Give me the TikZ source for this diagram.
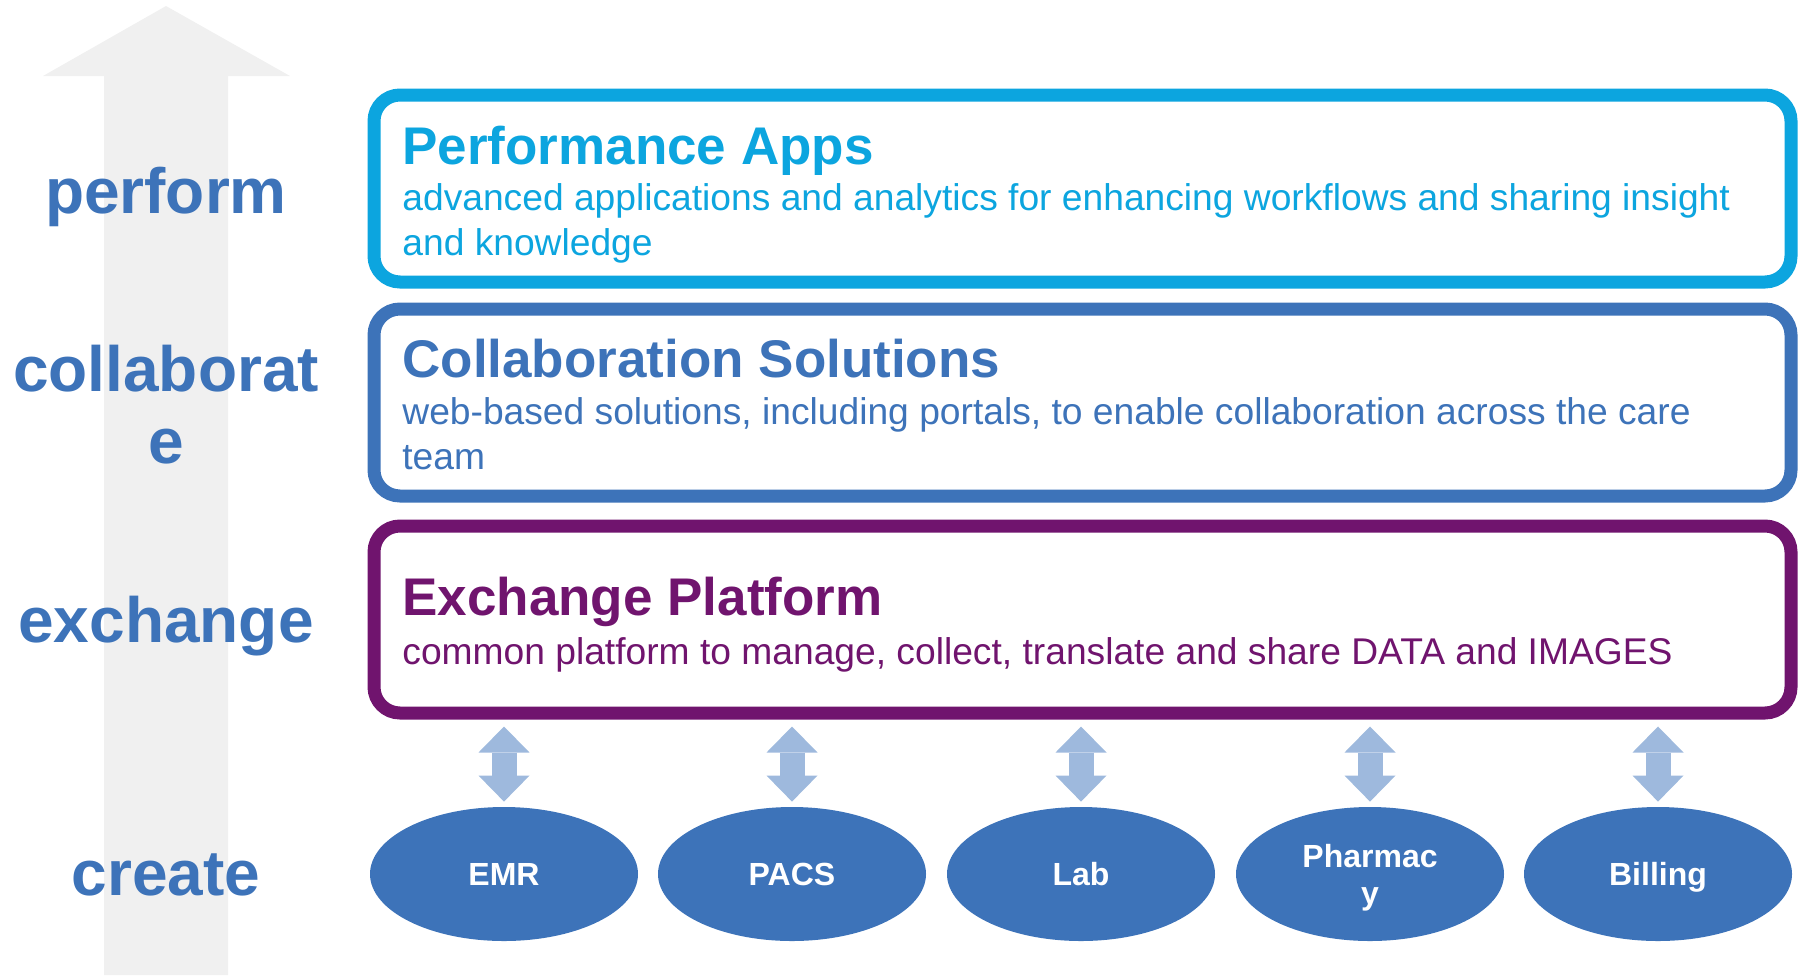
\documentclass[tikz,border=0pt]{standalone}
\usepackage{fontspec}
\setmainfont{Liberation Sans}
\usepackage{tikz}
\usetikzlibrary{arrows.meta}
\usetikzlibrary{shapes.geometric,positioning}
\definecolor{appcyan}{RGB}{12,165,223}
\definecolor{lvlblue}{RGB}{61,115,185}
\definecolor{exchpurple}{RGB}{112,20,110}
\definecolor{arrblue}{RGB}{158,185,221}
\definecolor{bggray}{RGB}{240,240,240}

\begin{document}
\begin{tikzpicture}[x=0.5pt,y=-0.5pt]
  \tikzset{layer/.style = {shape=rectangle,draw,line width=6.5pt,rounded corners=13pt,minimum width=708.5pt,minimum height=93.5pt,fill=white}}
  \tikzset{source/.style = {shape=ellipse,fill=lvlblue,minimum width=134pt,minimum height=67pt,inner sep=0pt,text height=11.5pt,text depth=0pt,text=white,align=center,font=\fontsize{16}{18.5}\selectfont\bfseries}}
  \tikzset{level/.style = {text=lvlblue,align=center,anchor=base,inner sep=0pt,font=\fontsize{32}{36}\selectfont\bfseries}}
  \tikzset{boxtitle/.style = {anchor=base west,inner sep=0pt,font=\fontsize{26.5}{30}\selectfont\bfseries}}
  \tikzset{boxtext/.style = {anchor=base west,inner sep=0pt,align=left,font=\fontsize{18.6}{22.5}\selectfont}}
  \tikzset{%
  tipB/.tip={Triangle[width=25.5pt 0 0,length=13pt 0 0,line width=0pt 0 0]},
  }
  \tikzset{dblarrow/.style = {color=arrblue,line width=12.5pt,tipB-tipB,shorten <=3.5pt,shorten >=2.5pt}}

  \useasboundingbox (0,0) rectangle (1803,975);

  % big arrow behind the levels
  \fill[bggray] (104,975) -- (104,76) -- (43,76) -- (166,6) -- (290,76) -- (228,76) -- (228,975) -- cycle;

	\node[level] (perf) at (166,213) {perform};
	\node[level] (coll) at (166,463) {collaborat\\e};
	\node[level] (exch) at (166,642) {exchange};
	\node[level] (crea) at (166,895) {create};

	\node[layer,draw=appcyan] (PA) at (1082.5,188.5) {};
	\node[boxtitle,text=appcyan] (PAt) at (402,164) {Performance Apps};
	\node[boxtext,text=appcyan] (PAs) at (402,255) {advanced applications and analytics for enhancing workflows and sharing insight\\and knowledge};

	\node[layer,draw=lvlblue] (CS) at (1082.5,402.5) {};
	\node[boxtitle,text=lvlblue] (CSt) at (402,377) {Collaboration Solutions};
	\node[boxtext,text=lvlblue] (CSs) at (402,469) {web-based solutions, including portals, to enable collaboration across the care\\team};

	\node[layer,draw=exchpurple] (EP) at (1082.5,619.5) {};
	\node[boxtitle,text=exchpurple] (EPt) at (402,615) {Exchange Platform};
	\node[boxtext,text=exchpurple] (EPs) at (402,664) {common platform to manage, collect, translate and share DATA and IMAGES};

	\node[source] (EMR) at (504,874) {EMR};
	\node[source] (PACS) at (792,874) {PACS};
	\node[source] (LAB) at (1081,874) {Lab};
	\node[source,text height=30pt] (PH) at (1370,874) {Pharmac\\y};
	\node[source] (BL) at (1658,874) {Billing};

    \foreach \to in {EMR, PACS, LAB, PH, BL}
    \path[dblarrow] (\to.north |- EP.south) edge (\to.north);

\end{tikzpicture}
\end{document}
